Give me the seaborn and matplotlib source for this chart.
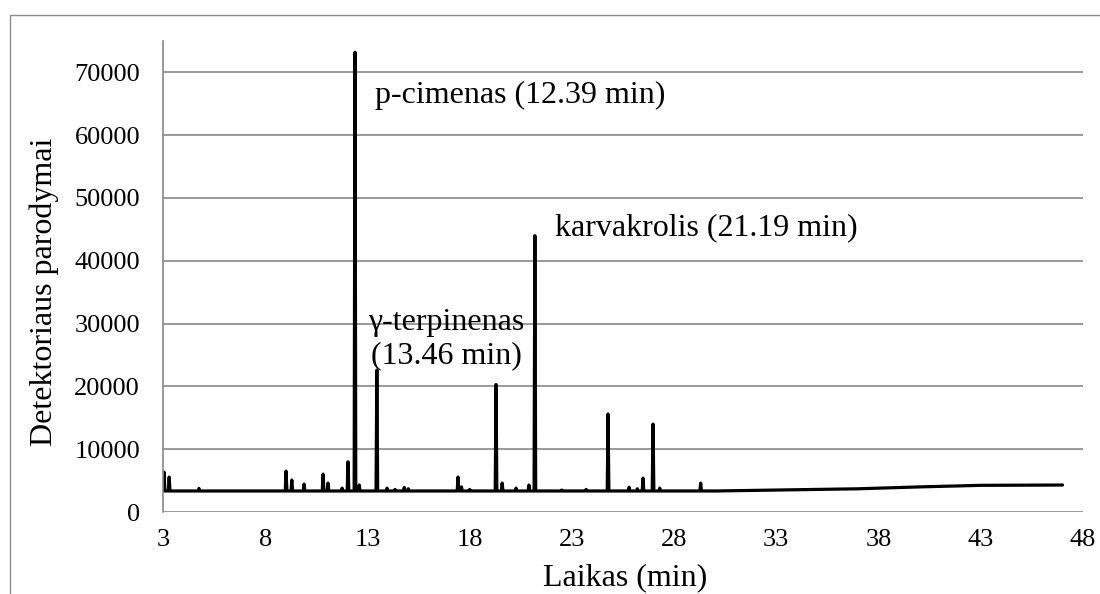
import numpy as np
import pandas as pd
import matplotlib
matplotlib.use("Agg")
import matplotlib.pyplot as plt
from matplotlib.lines import Line2D
import seaborn as sns

# Chromatogram peaks: retention time (min) and detector reading at the apex
peak_times = [3.05, 3.30, 4.76, 9.02, 9.30, 9.90, 10.83, 11.07, 11.76, 12.05,
              12.39, 12.60, 13.46, 13.96, 14.35, 14.80, 15.00, 17.43, 17.60,
              18.00, 19.29, 19.59, 20.27, 20.90, 21.19, 22.50, 23.70, 24.77,
              25.80, 26.20, 26.48, 26.97, 27.30, 29.30]
peak_heights = [6360, 5570, 3750, 6520, 5090, 4450, 6040, 4610, 3800, 8000,
                73200, 4300, 22600, 3800, 3600, 3900, 3700, 5570, 4000,
                3600, 20300, 4610, 3800, 4300, 44000, 3500, 3600, 15600,
                3950, 3700, 5400, 14000, 3800, 4600]

# Flat baseline of the early run, then the late drift
baseline_start = 3.0
baseline_level = 3350
drift_times = [30.0, 33.0, 37.0, 40.0, 43.0, 47.0]
drift_values = [3350, 3500, 3700, 4000, 4250, 4300]

# Labelled compounds
labels = ["p-cimenas (12.39 min)", "karvakrolis (21.19 min)",
          "\u03b3-terpinenas", "(13.46 min)"]

x_ticks = [3, 8, 13, 18, 23, 28, 33, 38, 43, 48]
y_ticks = [0, 10000, 20000, 30000, 40000, 50000, 60000, 70000]

# Assemble the trace: narrow triangular spikes sitting on the baseline
half_w = 0.04
t = [baseline_start]
v = [baseline_level]
for pt, ph in zip(peak_times, peak_heights):
    t += [pt - half_w, pt, pt + half_w]
    v += [baseline_level, ph, baseline_level]
t += drift_times
v += drift_values
trace = pd.DataFrame({"time": t, "signal": v})

sns.set_theme(style="white")
plt.rcParams["font.family"] = ["Liberation Serif", "DejaVu Serif"]

fig = plt.figure(figsize=(11, 5.94), dpi=100)
ax = fig.add_axes([0.1482, 0.1380, 0.8363, 0.7930])

sns.lineplot(data=trace, x="time", y="signal", estimator=None, sort=False,
             color="black", linewidth=2.3, ax=ax)

ax.set_xlim(3, 48)
ax.set_ylim(0, 75000)
ax.set_xticks(x_ticks)
ax.set_yticks(y_ticks)
ax.set_xticklabels([str(x) for x in x_ticks])
ax.set_yticklabels([str(y) for y in y_ticks])
ax.tick_params(axis="both", length=0, labelsize=19, colors="black")
ax.tick_params(axis="x", pad=12)
ax.tick_params(axis="y", pad=16.5)

grid_col = "#878787"
ax.grid(axis="y", color=grid_col, linewidth=1.2)
ax.grid(axis="x", visible=False)
for side in ["top", "right", "bottom"]:
    ax.spines[side].set_visible(False)
ax.spines["left"].set_color(grid_col)
ax.spines["left"].set_linewidth(1.2)
ax.set_axisbelow(True)

ax.set_xlabel("Laikas (min)", fontsize=23, color="black")
ax.set_ylabel("Detektoriaus parodymai", fontsize=23, color="black")
ax.xaxis.set_label_coords(0.502, -0.108)
ax.yaxis.set_label_coords(-0.113, 0.467)

txt = dict(fontsize=23, color="black", va="baseline")
ax.text(13.37, 65200, labels[0], ha="left", **txt)
ax.text(22.18, 44070, labels[1], ha="left", **txt)
ax.text(16.85, 28950, labels[2], ha="center", **txt)
ax.text(16.85, 23700, labels[3], ha="center", **txt)

# Outer frame lines of the figure (left and top edges)
fx = 10 / 1100
fy = 1 - 15 / 594
fig.add_artist(Line2D([fx, fx, 1.0], [0.0, fy, fy], transform=fig.transFigure,
                      color="#8c8c8c", linewidth=1.0))

fig.savefig("out.png", dpi=100, facecolor="white")
